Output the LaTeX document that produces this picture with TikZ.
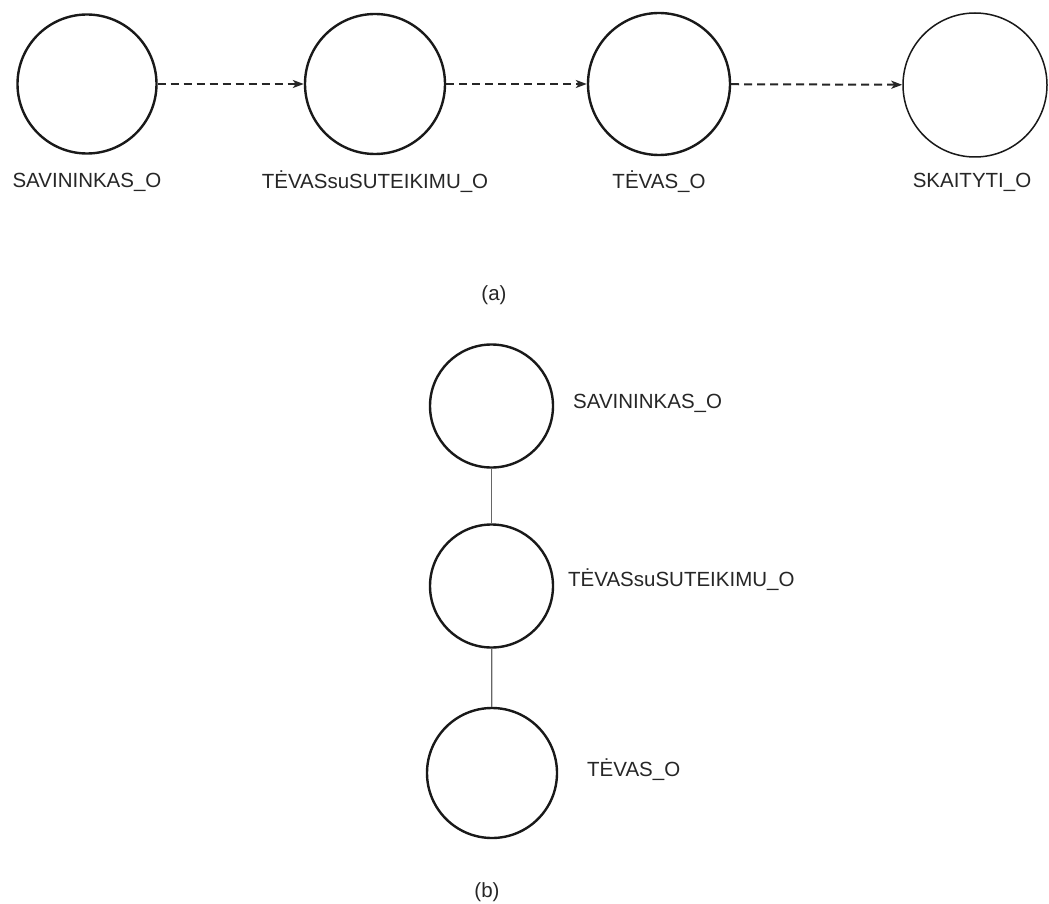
\documentclass[tikz,border=0pt]{standalone}
\usepackage{fontspec}
\setmainfont{Liberation Sans}
\usetikzlibrary{arrows.meta}
\begin{document}
\begin{tikzpicture}[x=1pt,y=-1pt,
  state/.style={circle,draw=black!90,line width=2.4pt,inner sep=0pt,fill=white},
  thinstate/.style={circle,draw=black!90,line width=1.5pt,inner sep=0pt,fill=white},
  lbl/.style={inner sep=0pt,text=black!85,font=\fontsize{20.5}{24}\selectfont},
  flow/.style={draw=black!85,line width=2pt,dash pattern=on 8pt off 5pt,
    -{Stealth[length=11pt,width=8pt,inset=3pt]}},
  link/.style={draw=black!60,line width=1.3pt}]
\useasboundingbox (0,0) rectangle (1049,904);
\fill[white] (0,0) rectangle (1049,904);

% (a) chain of objects
\node[state,minimum size=139pt] (a1) at (87,84) {};
\node[state,minimum size=140pt] (a2) at (375,84) {};
\node[state,minimum size=142pt] (a3) at (659,84) {};
\node[thinstate,minimum size=144pt] (a4) at (975,85) {};
\node[lbl] (la1) at (87,182) {SAVININKAS\_O};
\node[lbl] (la2) at (375,182) {TĖVASsuSUTEIKIMU\_O};
\node[lbl] (la3) at (659,182) {TĖVAS\_O};
\node[lbl] (la4) at (972,182) {SKAITYTI\_O};
\draw[flow] (a1) -- (a2);
\draw[flow] (a2) -- (a3);
\draw[flow] (a3) -- (a4);
\node[lbl] (capa) at (494,295) {(a)};

% (b) hierarchy
\node[state,minimum size=123pt] (b1) at (491.5,406) {};
\node[state,minimum size=123pt] (b2) at (491.5,586) {};
\node[state,minimum size=130pt] (b3) at (492,773) {};
\node[lbl,anchor=west] (lb1) at (573,403) {SAVININKAS\_O};
\node[lbl,anchor=west] (lb2) at (568,580) {TĖVASsuSUTEIKIMU\_O};
\node[lbl,anchor=west] (lb3) at (587,770) {TĖVAS\_O};
\draw[link] (b1) -- (b2);
\draw[link] (b2) -- (b3);
\node[lbl] (capb) at (487,892) {(b)};
\end{tikzpicture}
\end{document}
